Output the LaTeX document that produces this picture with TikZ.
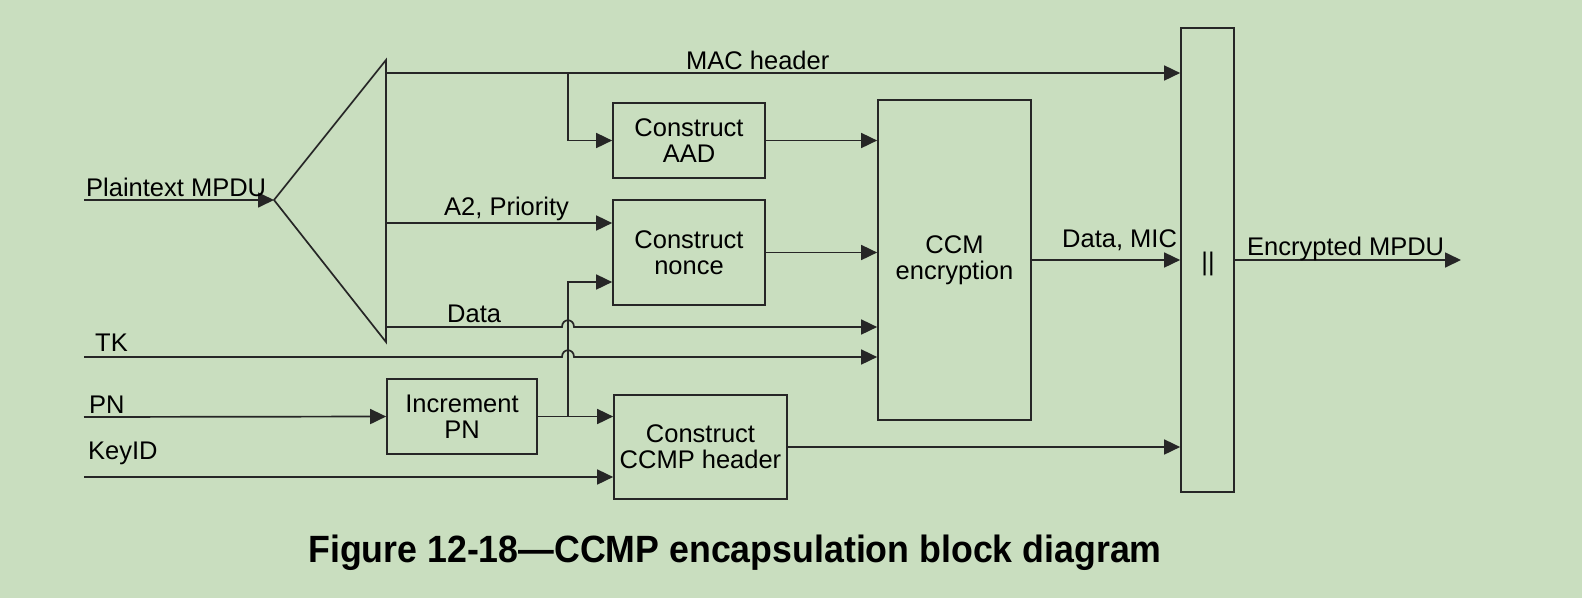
\documentclass[tikz,border=0pt]{standalone}
\usepackage{fontspec}
\setmainfont{Liberation Sans}
\usetikzlibrary{arrows.meta}
\definecolor{bg}{RGB}{201,222,191}
\definecolor{ln}{RGB}{38,38,38}
\newcommand\lblfont{\fontsize{25.5}{26}\selectfont}
\newcommand\capfont{\fontsize{38}{40}\selectfont\bfseries}
\begin{document}
\begin{tikzpicture}[x=1pt,y=-1pt,
  wire/.style={draw=ln,line width=1.7pt},
  arr/.style={wire,-{Triangle[length=16pt,width=15pt]}},
  blk/.style={draw=ln,line width=1.7pt,inner sep=0pt,align=center,font=\lblfont},
  lab/.style={anchor=base west,inner sep=0pt,font=\lblfont}]
\fill[bg] (0,0) rectangle (1582,598);
\useasboundingbox (0,0) rectangle (1582,598);

% blocks
\node[blk,minimum width=152pt,minimum height=75pt] (aad) at (689,140.5) {Construct\\AAD};
\node[blk,minimum width=152pt,minimum height=105pt] (nonce) at (689,252.5) {Construct\\nonce};
\node[blk,minimum width=153pt,minimum height=320pt] (ccm) at (954.5,260) {CCM\\encryption};
\node[blk,minimum width=53pt,minimum height=464pt] (cat) at (1207.5,260) {};
\node[font=\lblfont,inner sep=0pt] (bars) at (1208,264) {||};
\node[blk,minimum width=150pt,minimum height=75pt] (inc) at (462,416.5) {Increment\\PN};
\node[blk,minimum width=173pt,minimum height=104pt] (ccmp) at (700.5,447) {Construct\\CCMP header};

% splitter triangle
\coordinate (apex) at (274,200);
\coordinate (ttop) at (386,60);
\coordinate (tbot) at (386,342);
\draw[wire,line join=miter] (ttop) -- (apex) -- (tbot) -- cycle;

% port coordinates
\coordinate (inP) at (84,200);
\coordinate (inTK) at (84,357);
\coordinate (inPN) at (84,417);
\coordinate (inKey) at (84,477);
\coordinate (oMac) at (386,73);
\coordinate (oA2) at (386,223);
\coordinate (oData) at (386,327);
\coordinate (jx) at (568,0);
\coordinate (out) at (1461,260);

% connectors
\draw[arr] (inP) -- (apex);
\draw[arr] (oMac) -- (oMac -| cat.west);
\draw[arr] (oMac -| jx) |- (aad.west);
\draw[arr] (oA2) -- (oA2 -| nonce.west);
\draw[arr] (oData) -- ([xshift=-6pt]oData -| jx) .. controls +(0,-9) and +(0,-9) .. ([xshift=6pt]oData -| jx) -- (oData -| ccm.west);
\draw[arr] (inTK) -- ([xshift=-6pt]inTK -| jx) .. controls +(0,-9) and +(0,-9) .. ([xshift=6pt]inTK -| jx) -- (inTK -| ccm.west);
\draw[arr] (inPN) -- (inc.west);
\draw[arr] (inc.east) -- (inc.east -| ccmp.west);
\draw[arr] (inc.east -| jx) |- ([yshift=-29.5pt]nonce.west);
\draw[arr] (inKey) -- (inKey -| ccmp.west);
\draw[arr] (aad.east) -- (aad.east -| ccm.west);
\draw[arr] (nonce.east) -- (nonce.east -| ccm.west);
\draw[arr] (ccm.east) -- (ccm.east -| cat.west);
\draw[arr] (ccmp.east) -- (ccmp.east -| cat.west);
\draw[arr] (cat.east) -- (out);

% labels
\node[lab] (lP) at (86,196) {Plaintext MPDU};
\node[lab] (lMac) at (686,69) {MAC header};
\node[lab] (lA2) at (444,215) {A2, Priority};
\node[lab] (lData) at (447,322) {Data};
\node[lab] (lTK) at (95,351) {TK};
\node[lab] (lPN) at (89,413) {PN};
\node[lab] (lKey) at (88,459) {KeyID};
\node[lab] (lDM) at (1062,247) {Data, MIC};
\node[lab] (lEnc) at (1247,255) {Encrypted MPDU};

% caption
\node[font=\capfont,anchor=base,inner sep=0pt,xscale=0.94] (cap) at (735,562) {Figure 12-18—CCMP encapsulation block diagram};
\end{tikzpicture}
\end{document}
